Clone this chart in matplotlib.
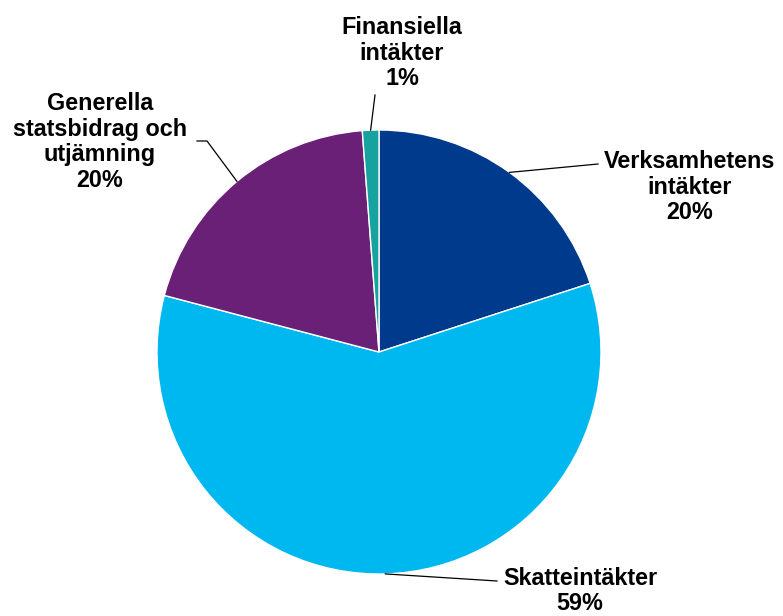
import numpy as np
import matplotlib
matplotlib.use("Agg")
from matplotlib import pyplot as plt

labels = ["Verksamhetens\nintäkter", "Skatteintäkter",
          "Generella\nstatsbidrag och\nutjämning", "Finansiella\nintäkter"]
values = [20.0, 59.1, 19.7, 1.2]
pct_text = ["20%", "59%", "20%", "1%"]
colors = ["#003A8C", "#00B8F0", "#6B2077", "#16A29F"]

W, H = 783, 616
plt.rcParams["font.family"] = ["Liberation Sans", "DejaVu Sans"]

fig = plt.figure(figsize=(W / 100, H / 100), dpi=100)
ax = fig.add_axes([0, 0, 1, 1])

cx, cy, r = 379, H - 352, 222
wedges, _ = ax.pie(values, colors=colors, startangle=90, counterclock=False,
                   center=(cx, cy), radius=r, frame=True,
                   wedgeprops=dict(edgecolor="white", linewidth=1))
ax.set_xlim(0, W)
ax.set_ylim(0, H)
ax.set_aspect("equal")
ax.axis("off")

# label centres and leader-line elbows (pixel coords from top)
label_pos = [(690, 187), (580, 591), (100, 142), (402, 53)]
elbows = [[(598, 164)], [(497, 581)], [(207, 141), (197, 141)], [(375, 95)]]

for w, lab, pct, pos, elb in zip(wedges, labels, pct_text, label_pos, elbows):
    mid = np.deg2rad((w.theta1 + w.theta2) / 2)
    x0, y0 = cx + r * np.cos(mid), cy + r * np.sin(mid)
    xs = [x0] + [p[0] for p in elb]
    ys = [y0] + [H - p[1] for p in elb]
    ax.plot(xs, ys, color="black", linewidth=0.9)
    ax.text(pos[0], H - pos[1], lab + "\n" + pct, ha="center", va="center",
            fontsize=16.8, fontweight="bold", linespacing=1.13)

fig.savefig("out.png", dpi=100)
